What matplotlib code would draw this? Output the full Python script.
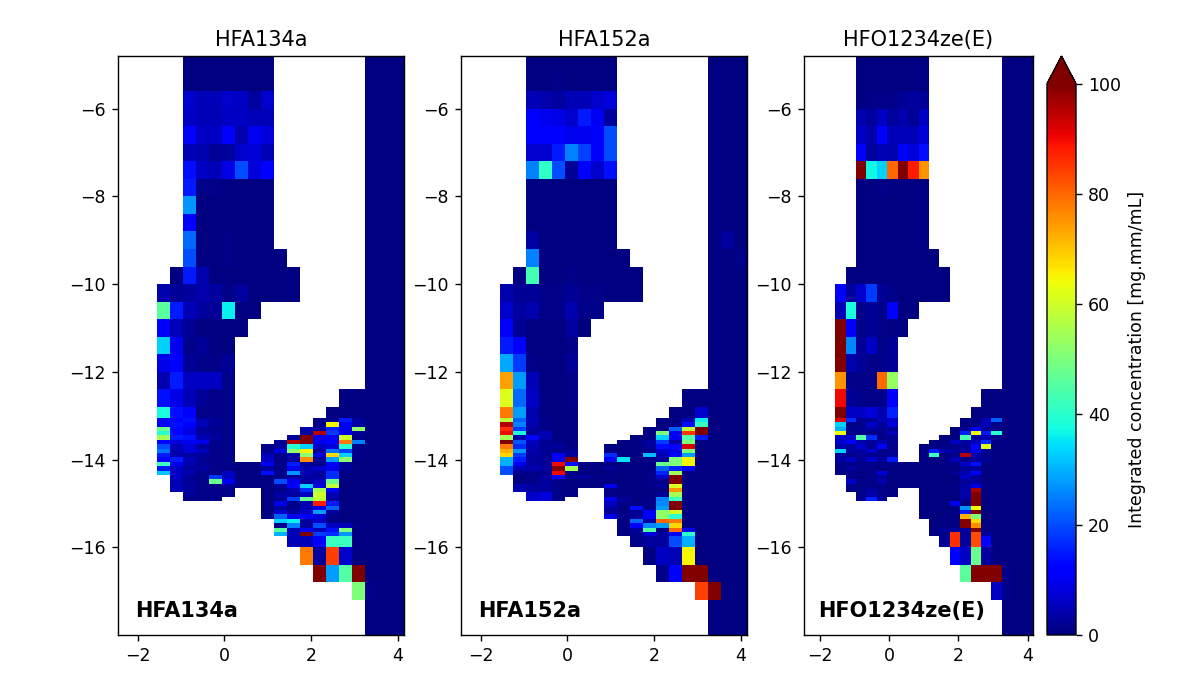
import matplotlib
matplotlib.use('Agg')
import matplotlib.pyplot as plt
import numpy as np

n = np.nan

x_edges = [-2.45, -2.15, -1.85, -1.55, -1.25, -0.95, -0.65, -0.35, -0.05, 0.25, 0.55, 0.85,
           1.15, 1.45, 1.75, 2.05, 2.35, 2.65, 2.95, 3.25, 3.55, 3.85, 4.15]
y_edges = [-4.8, -5.2, -5.6, -6.0, -6.4, -6.8, -7.2, -7.6, -8.0, -8.4, -8.8, -9.2, -9.6, -10.0,
           -10.4, -10.8, -11.2, -11.6, -12.0, -12.4, -12.8, -13.05, -13.15, -13.25, -13.35,
           -13.45, -13.55, -13.65, -13.75, -13.85, -13.95, -14.05, -14.15, -14.25, -14.35,
           -14.45, -14.55, -14.65, -14.75, -14.85, -14.95, -15.05, -15.15, -15.25, -15.35,
           -15.45, -15.55, -15.65, -15.75, -16.0, -16.4, -16.8, -17.2, -17.6, -18.0]

names = ['HFA134a', 'HFA152a', 'HFO1234ze(E)']

# rows from top to bottom, columns from x=-1.55 to 3.25, then the 3 wall columns
hfa134a = [
    [n, n, 0, 0, 0, 0, 0, 0, 0, n, n, n, n, n, n, n, 0, 0, 0],
    [n, n, 0, 0, 0, 0, 0, 0, 0, n, n, n, n, n, n, n, 0, 0, 0],
    [n, n, 7, 5, 5, 7, 6, 3, 7, n, n, n, n, n, n, n, 0, 0, 0],
    [n, n, 6, 5, 5, 6, 6, 5, 5, n, n, n, n, n, n, n, 0, 0, 0],
    [n, n, 11, 6, 6, 11, 4, 10, 8, n, n, n, n, n, n, n, 0, 0, 0],
    [n, n, 5, 4, 2, 3, 7, 8, 5, n, n, n, n, n, n, n, 0, 0, 0],
    [n, n, 14, 6, 5, 9, 20, 8, 11, n, n, n, n, n, n, n, 0, 0, 0],
    [n, n, 15, 1, 1, 0, 0, 0, 0, n, n, n, n, n, n, n, 0, 0, 0],
    [n, n, 27, 0, 0, 0, 0, 0, 0, n, n, n, n, n, n, n, 0, 0, 0],
    [n, n, 12, 0, 0, 0, 0, 0, 0, n, n, n, n, n, n, n, 0, 0, 0],
    [n, n, 23, 0, 0, 1, 0, 0, 0, n, n, n, n, n, n, n, 0, 0, 0],
    [n, n, 20, 0, 0, 1, 0, 0, 0, 0, n, n, n, n, n, n, 0, 0, 0],
    [n, 0, 15, 4, 0, 0, 0, 0, 0, 0, 0, n, n, n, n, n, 0, 0, 0],
    [4, 2, 3, 4, 3, 1, 3, 0, 0, 0, 0, n, n, n, n, n, 0, 0, 0],
    [46, 15, 5, 3, 2, 36, 0, 0, n, n, n, n, n, n, n, n, 0, 0, 0],
    [11, 5, 2, 0, 0, 0, 0, n, n, n, n, n, n, n, n, n, 0, 0, 0],
    [33, 10, 1, 2, 0, 0, n, n, n, n, n, n, n, n, n, n, 0, 0, 0],
    [9, 11, 2, 1, 1, 2, n, n, n, n, n, n, n, n, n, n, 0, 0, 0],
    [4, 15, 6, 6, 6, 1, n, n, n, n, n, n, n, n, n, n, 0, 0, 0],
    [14, 9, 5, 2, 1, 1, n, n, n, n, n, n, n, n, 0, 0, 0, 0, 0],
    [38, 14, 11, 1, 1, 1, n, n, n, n, n, n, n, 0, 0, 0, 0, 0, 0],
    [10, 11, 14, 4, 2, 1, n, n, n, n, n, n, 1, 1, 15, 3, 0, 0, 0],
    [11, 14, 12, 5, 2, 1, n, n, n, n, n, n, 1, 65, 11, 3, 0, 0, 0],
    [48, 13, 9, 2, 1, 1, n, n, n, n, n, 4, 3, 16, 10, 52, 0, 0, 0],
    [40, 13, 8, 3, 2, 1, n, n, n, n, n, 3, 95, 18, 9, 3, 0, 0, 0],
    [55, 15, 14, 5, 3, 1, n, n, n, n, 2, 100, 9, 12, 60, 1, 0, 0, 0],
    [12, 8, 10, 10, 1, 1, n, n, n, 2, 95, 100, 10, 11, 78, 25, 0, 0, 0],
    [20, 5, 8, 3, 1, 1, n, n, 1, 3, 40, 33, 6, 8, 40, 1, 0, 0, 0],
    [24, 4, 8, 5, 1, 1, n, n, 1, 9, 52, 65, 3, 24, 19, 1, 0, 0, 0],
    [15, 4, 3, 3, 1, 1, n, n, 5, 1, 4, 52, 9, 68, 33, 1, 0, 0, 0],
    [13, 15, 5, 2, 1, 1, n, n, 6, 1, 3, 76, 2, 28, 52, 1, 0, 0, 0],
    [42, 10, 4, 2, 1, 1, 0, 0, 10, 1, 15, 3, 1, 11, 2, 0, 0, 0, 0],
    [15, 6, 3, 3, 1, 1, 0, 0, 3, 1, 10, 4, 7, 9, 2, 0, 0, 0, 0],
    [32, 6, 4, 1, 1, 6, 0, 0, 14, 1, 27, 5, 3, 17, 0, 0, 0, 0, 0],
    [n, 6, 2, 1, 18, 6, 0, 0, 0, 1, 3, 3, 3, 17, 0, 0, 0, 0, 0],
    [n, 5, 2, 1, 48, 10, 0, 0, 0, 20, 10, 3, 6, 48, 0, 0, 0, 0, 0],
    [n, 5, 3, 1, 1, 2, 0, 0, 0, 2, 11, 33, 8, 58, 0, 0, 0, 0, 0],
    [n, 5, 3, 1, 1, 1, n, n, 0, 1, 4, 17, 55, 12, 0, 0, 0, 0, 0],
    [n, n, 2, 1, 1, 1, n, n, 0, 3, 3, 6, 60, 5, 0, 0, 0, 0, 0],
    [n, n, 1, 1, 1, n, n, n, 0, 2, 18, 48, 58, 3, 0, 0, 0, 0, 0],
    [n, n, n, n, n, n, n, n, 0, 9, 1, 4, 88, 15, 0, 0, 0, 0, 0],
    [n, n, n, n, n, n, n, n, 0, 3, 1, 5, 9, 22, 0, 0, 0, 0, 0],
    [n, n, n, n, n, n, n, n, 0, 7, 3, 6, 28, 3, 0, 0, 0, 0, 0],
    [n, n, n, n, n, n, n, n, 0, 22, 10, 12, 8, 1, 0, 0, 0, 0, 0],
    [n, n, n, n, n, n, n, n, n, 33, 36, 3, 6, 1, 0, 0, 0, 0, 0],
    [n, n, n, n, n, n, n, n, n, 1, 25, 3, 20, 6, 5, 1, 0, 0, 0],
    [n, n, n, n, n, n, n, n, n, 46, 5, 11, 5, 14, 50, 0, 0, 0, 0],
    [n, n, n, n, n, n, n, n, n, 30, 5, 100, 18, 17, 27, 0, 0, 0, 0],
    [n, n, n, n, n, n, n, n, n, n, 5, 5, 12, 42, 42, 0, 0, 0, 0],
    [n, n, n, n, n, n, n, n, n, n, n, 78, 3, 84, 7, 0, 0, 0, 0],
    [n, n, n, n, n, n, n, n, n, n, n, n, 100, 28, 45, 100, 0, 0, 0],
    [n, n, n, n, n, n, n, n, n, n, n, n, n, n, n, 50, 1, 0, 0],
    [n, n, n, n, n, n, n, n, n, n, n, n, n, n, n, n, 0, 0, 0],
    [n, n, n, n, n, n, n, n, n, n, n, n, n, n, n, n, 0, 0, 0],
]

hfa152a = [
    [n, n, 0, 0, 0, 0, 0, 0, 0, n, n, n, n, n, n, n, 0, 0, 0],
    [n, n, 0, 0, 1, 0, 0, 0, 0, n, n, n, n, n, n, n, 0, 0, 0],
    [n, n, 5, 4, 3, 5, 5, 7, 8, n, n, n, n, n, n, n, 0, 0, 0],
    [n, n, 12, 10, 9, 7, 15, 10, 3, n, n, n, n, n, n, n, 0, 0, 0],
    [n, n, 11, 11, 11, 10, 10, 11, 20, n, n, n, n, n, n, n, 0, 0, 0],
    [n, n, 7, 7, 15, 25, 19, 11, 20, n, n, n, n, n, n, n, 0, 0, 0],
    [n, n, 25, 41, 20, 2, 11, 7, 14, n, n, n, n, n, n, n, 0, 0, 0],
    [n, n, 0, 0, 0, 0, 0, 0, 0, n, n, n, n, n, n, n, 0, 0, 0],
    [n, n, 0, 0, 0, 0, 0, 0, 0, n, n, n, n, n, n, n, 0, 0, 0],
    [n, n, 0, 0, 0, 0, 0, 0, 0, n, n, n, n, n, n, n, 0, 0, 0],
    [n, n, 3, 0, 0, 0, 0, 0, 0, n, n, n, n, n, n, n, 0, 3, 0],
    [n, n, 25, 0, 0, 0, 0, 0, 0, 0, n, n, n, n, n, n, 0, 0, 1],
    [n, 0, 43, 0, 0, 1, 0, 0, 0, 0, 0, n, n, n, n, n, 0, 0, 0],
    [4, 2, 2, 1, 1, 2, 1, 1, 0, 0, 0, n, n, n, n, n, 0, 0, 0],
    [7, 3, 4, 1, 1, 4, 1, 1, n, n, n, n, n, n, n, n, 0, 0, 0],
    [11, 2, 0, 0, 0, 3, 0, n, n, n, n, n, n, n, n, n, 0, 0, 0],
    [15, 12, 0, 0, 0, 1, n, n, n, n, n, n, n, n, n, n, 0, 0, 0],
    [29, 18, 1, 0, 0, 2, n, n, n, n, n, n, n, n, n, n, 0, 0, 0],
    [74, 28, 5, 0, 0, 1, n, n, n, n, n, n, n, n, n, n, 0, 0, 0],
    [62, 23, 6, 0, 0, 1, n, n, n, n, n, n, n, n, 0, 0, 0, 0, 0],
    [78, 28, 4, 0, 0, 0, n, n, n, n, n, n, n, 0, 0, 7, 0, 0, 0],
    [58, 22, 5, 1, 0, 0, n, n, n, n, n, n, 0, 0, 5, 36, 0, 0, 0],
    [95, 25, 4, 1, 0, 0, n, n, n, n, n, n, 0, 0, 14, 42, 0, 0, 0],
    [86, 18, 3, 1, 0, 0, n, n, n, n, n, 0, 0, 22, 58, 100, 0, 0, 0],
    [90, 38, 2, 5, 0, 0, n, n, n, n, n, 0, 50, 10, 85, 100, 0, 0, 0],
    [55, 4, 13, 4, 0, 0, n, n, n, n, 0, 0, 33, 10, 45, 15, 0, 0, 0],
    [100, 21, 6, 2, 1, 0, n, n, n, 0, 0, 3, 18, 3, 50, 0, 0, 0, 0],
    [78, 17, 4, 2, 3, 0, n, n, 0, 0, 0, 2, 14, 12, 92, 0, 0, 0, 0],
    [72, 27, 4, 2, 1, 2, n, n, 0, 0, 0, 1, 7, 9, 50, 0, 0, 0, 0],
    [68, 18, 3, 2, 12, 2, n, n, 17, 0, 0, 31, 4, 12, 28, 0, 0, 0, 0],
    [30, 15, 3, 2, 10, 100, n, n, 10, 35, 0, 1, 3, 50, 65, 0, 0, 0, 0],
    [30, 10, 3, 2, 90, 14, 0, 0, 0, 0, 0, 1, 48, 50, 65, 0, 0, 0, 0],
    [20, 5, 4, 3, 100, 55, 0, 0, 2, 0, 0, 0, 22, 16, 11, 0, 0, 0, 0],
    [20, 1, 1, 1, 90, 1, 0, 0, 0, 0, 0, 1, 16, 55, 0, 0, 0, 0, 0],
    [n, 0, 1, 3, 11, 1, 3, 1, 1, 0, 0, 1, 7, 100, 0, 0, 0, 0, 0],
    [n, 0, 1, 3, 1, 0, 0, 0, 0, 0, 0, 1, 1, 100, 0, 0, 0, 0, 0],
    [n, 4, 3, 3, 1, 0, 0, 0, 10, 0, 0, 1, 2, 62, 0, 0, 0, 0, 0],
    [n, 4, 3, 3, 1, 0, n, n, 1, 0, 0, 0, 0, 75, 0, 0, 0, 0, 0],
    [n, n, 6, 8, 1, 1, n, n, 1, 0, 0, 0, 2, 55, 0, 0, 0, 0, 0],
    [n, n, 7, 8, 1, n, n, n, 10, 2, 0, 1, 25, 42, 0, 0, 0, 0, 0],
    [n, n, n, n, n, n, n, n, 6, 1, 1, 1, 26, 100, 0, 0, 0, 0, 0],
    [n, n, n, n, n, n, n, n, 3, 0, 14, 1, 28, 100, 0, 0, 0, 0, 0],
    [n, n, n, n, n, n, n, n, 2, 0, 2, 11, 52, 60, 0, 0, 0, 0, 0],
    [n, n, n, n, n, n, n, n, 9, 1, 2, 11, 52, 40, 0, 0, 0, 0, 0],
    [n, n, n, n, n, n, n, n, n, 0, 23, 3, 80, 78, 0, 0, 0, 0, 0],
    [n, n, n, n, n, n, n, n, n, 0, 11, 26, 28, 68, 0, 0, 0, 0, 0],
    [n, n, n, n, n, n, n, n, n, 0, 3, 45, 1, 80, 10, 0, 0, 0, 0],
    [n, n, n, n, n, n, n, n, n, 0, 1, 8, 3, 11, 40, 0, 0, 0, 0],
    [n, n, n, n, n, n, n, n, n, n, 1, 3, 3, 20, 30, 0, 0, 0, 0],
    [n, n, n, n, n, n, n, n, n, n, n, 0, 6, 5, 65, 0, 0, 0, 0],
    [n, n, n, n, n, n, n, n, n, n, n, n, 1, 11, 100, 100, 0, 0, 0],
    [n, n, n, n, n, n, n, n, n, n, n, n, n, n, n, 84, 100, 0, 0],
    [n, n, n, n, n, n, n, n, n, n, n, n, n, n, n, n, 0, 0, 0],
    [n, n, n, n, n, n, n, n, n, n, n, n, n, n, n, n, 0, 0, 0],
]

hfo1234ze = [
    [n, n, 0, 0, 0, 0, 0, 0, 0, n, n, n, n, n, n, n, 0, 0, 0],
    [n, n, 0, 0, 0, 0, 0, 0, 0, n, n, n, n, n, n, n, 0, 0, 0],
    [n, n, 0, 1, 1, 1, 2, 3, 2, n, n, n, n, n, n, n, 0, 0, 0],
    [n, n, 4, 3, 6, 3, 4, 2, 6, n, n, n, n, n, n, n, 0, 0, 0],
    [n, n, 6, 4, 11, 5, 5, 5, 8, n, n, n, n, n, n, n, 0, 0, 0],
    [n, n, 11, 3, 5, 4, 11, 8, 14, n, n, n, n, n, n, n, 0, 0, 0],
    [n, n, 100, 37, 33, 80, 100, 88, 75, n, n, n, n, n, n, n, 0, 0, 0],
    [n, n, 0, 0, 1, 0, 0, 0, 0, n, n, n, n, n, n, n, 0, 0, 0],
    [n, n, 0, 0, 0, 0, 0, 0, 0, n, n, n, n, n, n, n, 0, 0, 0],
    [n, n, 0, 0, 0, 0, 0, 0, 0, n, n, n, n, n, n, n, 0, 0, 0],
    [n, n, 0, 0, 0, 0, 0, 0, 0, n, n, n, n, n, n, n, 0, 0, 0],
    [n, n, 0, 0, 0, 0, 0, 0, 0, 0, n, n, n, n, n, n, 0, 0, 0],
    [n, 0, 0, 0, 0, 0, 0, 0, 0, 0, 0, n, n, n, n, n, 0, 0, 0],
    [11, 3, 7, 18, 2, 1, 0, 0, 0, 0, 0, n, n, n, n, n, 0, 0, 0],
    [5, 38, 1, 2, 1, 11, 0, 0, n, n, n, n, n, n, n, n, 0, 0, 0],
    [100, 11, 1, 2, 1, 0, 0, n, n, n, n, n, n, n, n, n, 0, 0, 0],
    [100, 26, 2, 6, 1, 2, n, n, n, n, n, n, n, n, n, n, 0, 0, 0],
    [100, 4, 2, 1, 1, 2, n, n, n, n, n, n, n, n, n, n, 0, 0, 0],
    [75, 1, 1, 1, 80, 53, n, n, n, n, n, n, n, n, n, n, 0, 0, 0],
    [90, 2, 1, 1, 1, 12, n, n, n, n, n, n, n, n, 0, 0, 0, 0, 0],
    [100, 6, 6, 8, 4, 16, n, n, n, n, n, n, n, 0, 0, 0, 0, 0, 0],
    [92, 17, 2, 2, 5, 6, n, n, n, n, n, n, 0, 0, 5, 22, 0, 0, 0],
    [33, 1, 1, 7, 2, 8, n, n, n, n, n, n, 0, 1, 5, 1, 0, 0, 0],
    [30, 1, 2, 3, 2, 2, n, n, n, n, n, 0, 2, 11, 2, 1, 0, 0, 0],
    [64, 1, 1, 1, 1, 5, n, n, n, n, n, 0, 16, 64, 15, 40, 0, 0, 0],
    [6, 7, 45, 17, 1, 2, n, n, n, n, 0, 0, 44, 3, 5, 1, 0, 0, 0],
    [7, 11, 4, 3, 4, 1, n, n, n, 0, 0, 6, 3, 5, 17, 0, 0, 0, 0],
    [4, 3, 7, 2, 12, 1, n, n, 0, 0, 1, 1, 2, 13, 62, 0, 0, 0, 0],
    [33, 3, 3, 7, 1, 1, n, n, 0, 15, 4, 2, 3, 9, 2, 0, 0, 0, 0],
    [3, 1, 3, 1, 1, 2, n, n, 0, 42, 0, 1, 95, 4, 1, 0, 0, 0, 0],
    [3, 6, 2, 7, 2, 15, n, n, 0, 0, 0, 5, 1, 3, 2, 0, 0, 0, 0],
    [1, 1, 1, 1, 1, 1, 0, 0, 0, 0, 1, 1, 6, 14, 0, 0, 0, 0, 0],
    [1, 3, 1, 1, 0, 0, 0, 0, 0, 0, 0, 0, 2, 3, 0, 0, 0, 0, 0],
    [0, 1, 0, 1, 8, 0, 0, 0, 0, 0, 0, 2, 4, 11, 0, 0, 0, 0, 0],
    [n, 1, 1, 1, 2, 0, 0, 0, 0, 0, 0, 0, 6, 2, 0, 0, 0, 0, 0],
    [n, 6, 1, 1, 4, 0, 0, 0, 0, 0, 0, 0, 2, 3, 0, 0, 0, 0, 0],
    [n, 1, 1, 1, 1, 0, 0, 0, 0, 0, 0, 1, 3, 9, 0, 0, 0, 0, 0],
    [n, 1, 1, 3, 1, 0, n, n, 0, 0, 0, 0, 4, 96, 0, 0, 0, 0, 0],
    [n, n, 1, 4, 1, 0, n, n, 0, 0, 0, 0, 4, 100, 0, 0, 0, 0, 0],
    [n, n, 2, 16, 3, n, n, n, 0, 0, 0, 0, 3, 100, 0, 0, 0, 0, 0],
    [n, n, n, n, n, n, n, n, 0, 0, 0, 10, 0, 100, 0, 0, 0, 0, 0],
    [n, n, n, n, n, n, n, n, 0, 0, 0, 0, 27, 65, 0, 0, 0, 0, 0],
    [n, n, n, n, n, n, n, n, 0, 0, 0, 0, 15, 100, 0, 0, 0, 0, 0],
    [n, n, n, n, n, n, n, n, 0, 0, 0, 0, 72, 50, 0, 0, 0, 0, 0],
    [n, n, n, n, n, n, n, n, n, 0, 0, 0, 100, 68, 0, 0, 0, 0, 0],
    [n, n, n, n, n, n, n, n, n, 0, 0, 0, 100, 76, 0, 0, 0, 0, 0],
    [n, n, n, n, n, n, n, n, n, 0, 3, 2, 3, 100, 1, 0, 0, 0, 0],
    [n, n, n, n, n, n, n, n, n, 0, 1, 86, 2, 83, 3, 0, 0, 0, 0],
    [n, n, n, n, n, n, n, n, n, n, 2, 86, 3, 83, 11, 0, 0, 0, 0],
    [n, n, n, n, n, n, n, n, n, n, n, 12, 6, 48, 3, 0, 0, 0, 0],
    [n, n, n, n, n, n, n, n, n, n, n, n, 46, 100, 100, 100, 1, 0, 0],
    [n, n, n, n, n, n, n, n, n, n, n, n, n, n, n, 6, 1, 0, 0],
    [n, n, n, n, n, n, n, n, n, n, n, n, n, n, n, n, 0, 0, 0],
    [n, n, n, n, n, n, n, n, n, n, n, n, n, n, n, n, 0, 0, 0],
]

W, H = 1196, 698
fig = plt.figure(figsize=(W / 125, H / 125), dpi=125)


def px_axes(left, right, top, bottom):
    return fig.add_axes([left / W, 1 - bottom / H, (right - left) / W, (bottom - top) / H])


axes = [px_axes(118, 404, 56, 635), px_axes(461, 747, 56, 635), px_axes(804, 1033, 56, 635)]
blank = np.full((54, 3), np.nan)

for ax, name, values in zip(axes, names, [hfa134a, hfa152a, hfo1234ze]):
    grid = np.hstack([blank, np.array(values, dtype=float)])
    mesh = ax.pcolormesh(x_edges, y_edges, grid, cmap='jet', vmin=0, vmax=100)
    ax.set_title(name)
    ax.set_xticks([-2, 0, 2, 4])
    ax.set_yticks([-6, -8, -10, -12, -14, -16])
    ax.text(-2.05, -17.58, name, fontsize=12, fontweight='bold')

cax = px_axes(1047, 1076, 56, 635)
cbar = fig.colorbar(mesh, cax=cax, extend='max')
cbar.set_label('Integrated concentration [mg.mm/mL]')
cbar.set_ticks([0, 20, 40, 60, 80, 100])

fig.savefig('out.png', dpi=125)
